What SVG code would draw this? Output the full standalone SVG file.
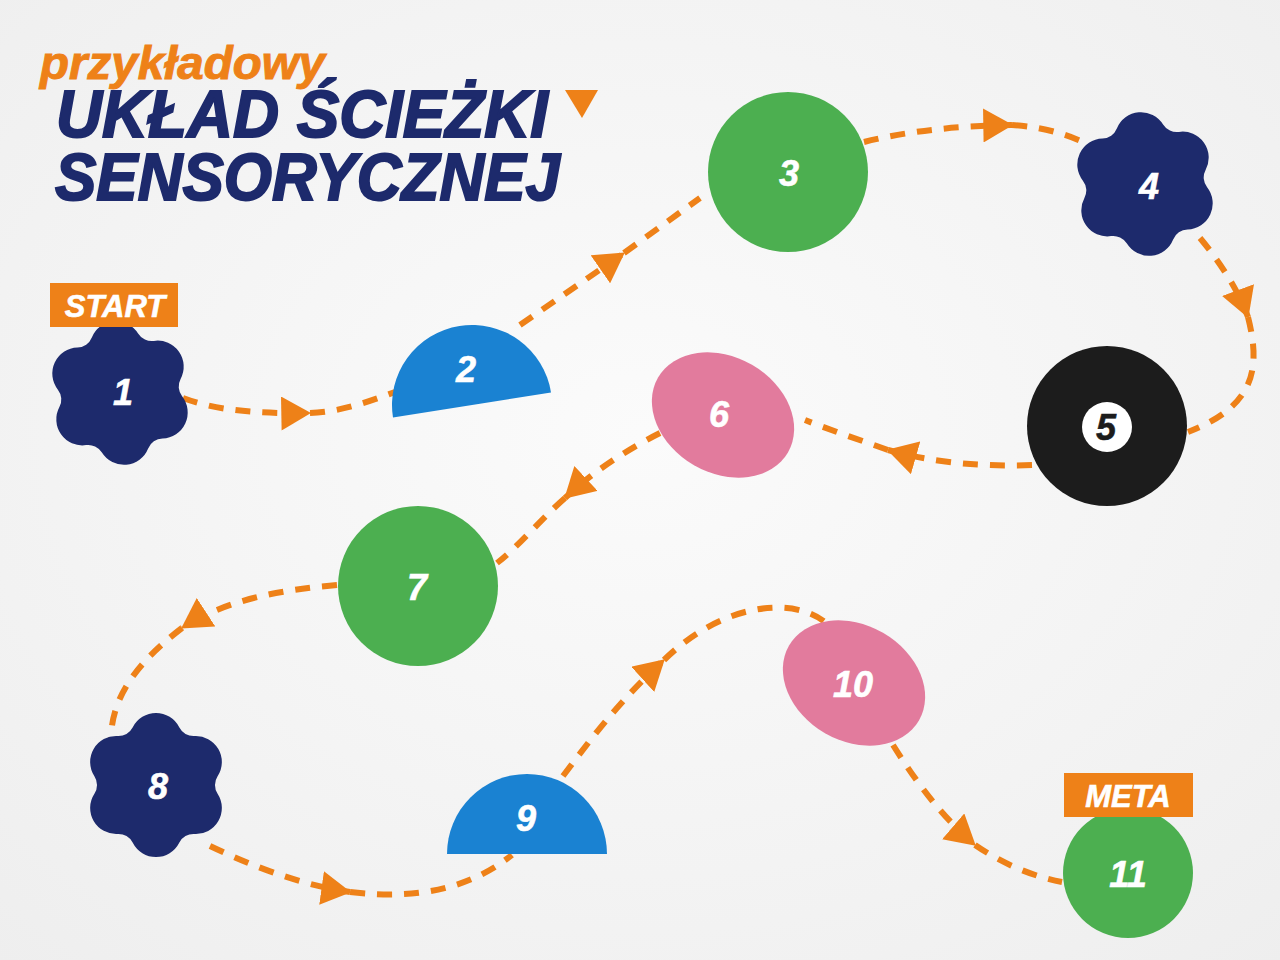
<svg xmlns="http://www.w3.org/2000/svg" xmlns:xlink="http://www.w3.org/1999/xlink" width="1280" height="960" viewBox="0 0 1280 960">
<defs>
<radialGradient id="bg" cx="50%" cy="45%" r="75%">
<stop offset="0" stop-color="#fbfbfb"/>
<stop offset="1" stop-color="#eeeeee"/>
</radialGradient>
<path id="flower" d="M57.72,-23.21 A26,26 0 0 1 57.72,23.21 A16,16 0 0 0 48.96,38.38 A26,26 0 0 1 8.76,61.6 A16,16 0 0 0 -8.76,61.6 A26,26 0 0 1 -48.96,38.38 A16,16 0 0 0 -57.72,23.21 A26,26 0 0 1 -57.72,-23.21 A16,16 0 0 0 -48.96,-38.38 A26,26 0 0 1 -8.76,-61.6 A16,16 0 0 0 8.76,-61.6 A26,26 0 0 1 48.96,-38.38 A16,16 0 0 0 57.72,-23.21 Z"/>
<marker id="arr" markerUnits="userSpaceOnUse" markerWidth="30" markerHeight="34" viewBox="0 0 28 32" refX="27" refY="16" orient="auto">
<path d="M0,0 L28,16 L0,32 Z" fill="#ee8118"/>
</marker>
</defs>
<style>
.navy{fill:#1d2a6c}
.green{fill:#4caf50}
.blue{fill:#1a82d2}
.pink{fill:#e27b9d}
.black{fill:#1c1c1c}
.num{font-family:"Liberation Sans",Arial,sans-serif;font-weight:bold;font-style:italic;font-size:36px;fill:#ffffff;stroke:#ffffff;stroke-width:0.6;text-anchor:middle;dominant-baseline:central}
.tag{fill:#ee8118}
.tagt{font-family:"Liberation Sans",Arial,sans-serif;font-weight:bold;font-style:italic;font-size:31px;fill:#ffffff;stroke:#ffffff;stroke-width:0.6;text-anchor:middle;dominant-baseline:central}
.path{fill:none;stroke:#ee8118;stroke-width:6;stroke-dasharray:15 12}
.title{font-family:"Liberation Sans",Arial,sans-serif;font-weight:bold;font-style:italic}
</style>
<rect width="1280" height="960" fill="url(#bg)"/>

<g id="title">
<text class="title" x="40" y="79" font-size="46" fill="#ee8118" stroke="#ee8118" stroke-width="1" textLength="285" lengthAdjust="spacingAndGlyphs">przykładowy</text>
<text class="title" x="56" y="137" font-size="66" fill="#1d2a6c" stroke="#1d2a6c" stroke-width="2" textLength="492" lengthAdjust="spacingAndGlyphs">UKŁAD ŚCIEŻKI</text>
<text class="title" x="55" y="200" font-size="66" fill="#1d2a6c" stroke="#1d2a6c" stroke-width="2" textLength="505" lengthAdjust="spacingAndGlyphs">SENSORYCZNEJ</text>
<polygon points="565,90 598,90 582,118" fill="#ee8118"/>
</g>

<g id="connectors">
<path class="path" d="M183,398 C215,410 255,414 310,413" marker-end="url(#arr)"/>
<path class="path" d="M310,413 C340,412 368,402 395,392"/>
<path class="path" d="M520,325 L624,253" marker-end="url(#arr)"/>
<path class="path" d="M624,253 L700,198"/>
<path class="path" d="M864,142 C905,132 950,126 1012,125" marker-end="url(#arr)"/>
<path class="path" d="M1012,125 C1045,127 1070,135 1096,148"/>
<path class="path" d="M1200,238 C1220,262 1238,290 1248,317" marker-end="url(#arr)"/>
<path class="path" d="M1248,317 C1260,365 1258,405 1188,432"/>
<path class="path" d="M1032,465 C980,467 930,462 888,450" marker-end="url(#arr)"/>
<path class="path" d="M888,450 C860,440 830,430 805,420"/>
<path class="path" d="M660,433 C630,448 595,470 565,498" marker-end="url(#arr)"/>
<path class="path" d="M565,498 C540,520 520,545 497,563"/>
<path class="path" d="M337,585 C280,590 225,600 182,628" marker-end="url(#arr)"/>
<path class="path" d="M182,628 C140,660 105,700 112,752"/>
<path class="path" d="M210,846 C250,865 300,885 350,892" marker-end="url(#arr)"/>
<path class="path" d="M350,892 C420,900 470,888 512,855"/>
<path class="path" d="M563,776 C590,740 620,700 664,660" marker-end="url(#arr)"/>
<path class="path" d="M664,660 C720,605 790,595 825,622"/>
<path class="path" d="M893,745 C915,780 940,815 975,845" marker-end="url(#arr)"/>
<path class="path" d="M975,845 C1000,862 1030,876 1062,882"/>
</g>

<g id="node1">
<use xlink:href="#flower" href="#flower" class="navy" transform="translate(120,393) rotate(-35)"/>
<text class="num" x="123" y="392">1</text>
</g>
<g id="start">
<rect class="tag" x="50" y="283" width="128" height="44"/>
<text class="tagt" x="115" y="306">START</text>
</g>
<g id="node2">
<path class="blue" d="M-80,0 A80,80 0 0 1 80,0 Z" transform="translate(472,405) rotate(-9)"/>
<text class="num" x="466" y="369">2</text>
</g>
<g id="node3">
<circle class="green" cx="788" cy="172" r="80"/>
<text class="num" x="789" y="173">3</text>
</g>
<g id="node4">
<use xlink:href="#flower" href="#flower" class="navy" transform="translate(1145,184) rotate(-35)"/>
<text class="num" x="1149" y="186">4</text>
</g>
<g id="node5">
<circle class="black" cx="1107" cy="426" r="80"/>
<circle cx="1107" cy="427" r="25" fill="#ffffff"/>
<text class="num" x="1106" y="427" style="fill:#1c1c1c;stroke:#1c1c1c">5</text>
</g>
<g id="node6">
<ellipse class="pink" cx="723" cy="415" rx="75" ry="58" transform="rotate(30 723 415)"/>
<text class="num" x="719" y="414">6</text>
</g>
<g id="node7">
<circle class="green" cx="418" cy="586" r="80"/>
<text class="num" x="417" y="587">7</text>
</g>
<g id="node8">
<use xlink:href="#flower" href="#flower" class="navy" transform="translate(156,785) rotate(-30)"/>
<text class="num" x="158" y="786">8</text>
</g>
<g id="node9">
<path class="blue" d="M-80,0 A80,80 0 0 1 80,0 Z" transform="translate(527,854)"/>
<text class="num" x="526" y="818">9</text>
</g>
<g id="node10">
<ellipse class="pink" cx="854" cy="683" rx="75" ry="58" transform="rotate(30 854 683)"/>
<text class="num" x="853" y="684">10</text>
</g>
<g id="node11">
<circle class="green" cx="1128" cy="873" r="65"/>
<text class="num" x="1128" y="874">11</text>
</g>
<g id="meta">
<rect class="tag" x="1064" y="773" width="129" height="44"/>
<text class="tagt" x="1128" y="796">META</text>
</g>
</svg>
